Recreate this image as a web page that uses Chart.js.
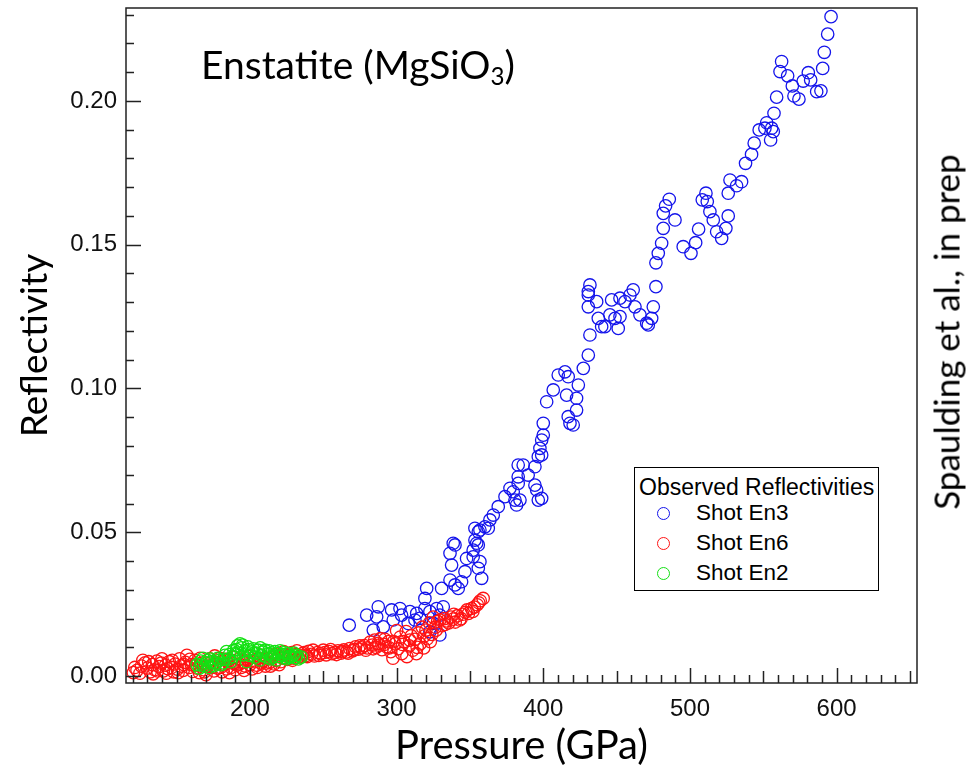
<!DOCTYPE html>
<html><head><meta charset="utf-8">
<script src="https://cdn.jsdelivr.net/npm/chart.js@4.4.1/dist/chart.umd.min.js"></script>
<style>
html,body{margin:0;padding:0;background:#fff;}
#wrap{position:relative;width:973px;height:771px;overflow:hidden;background:#fff;}
#c{position:absolute;left:0;top:0;}
.t{position:absolute;font-family:Lato,"Open Sans",sans-serif;color:#000;white-space:nowrap;line-height:1;}
#title{left:201px;top:45px;font-size:39px;}
#title sub{font-size:0.62em;vertical-align:-0.25em;line-height:0;}
#credit{left:946px;top:332px;font-size:35px;transform:translate(-50%,-50%) rotate(-90deg);}
#legend{position:absolute;left:634px;top:467px;width:243px;height:122px;border:1.5px solid #000;background:#fff;font-family:"Liberation Sans",Arial,sans-serif;color:#000;white-space:nowrap;}
#legend .lt{position:absolute;left:4px;top:8px;font-size:23px;line-height:1;white-space:nowrap;}
#legend .it{position:absolute;left:0;width:240px;height:26px;font-size:22.5px;line-height:26px;white-space:nowrap;}
#legend .mk{position:absolute;left:22px;top:7px;width:11px;height:11px;border-radius:50%;border:1.2px solid;}
#legend .lb{position:absolute;left:61px;top:0;white-space:nowrap;}
</style></head>
<body><div id="wrap">
<canvas id="c" width="973" height="771"></canvas>
<div id="title" class="t">Enstatite (MgSiO<sub>3</sub>)</div>
<div id="credit" class="t">Spaulding et al., in prep</div>
<div id="legend"></div>
</div>
<script>
// ---- data ----
const seriesLabels = ['Shot En3', 'Shot En6', 'Shot En2'];
const seriesColors = ['rgb(20,20,235)', 'rgb(255,20,20)', 'rgb(20,225,20)'];
const legendTitle = 'Observed Reflectivities';
const xTickValues = [200, 300, 400, 500, 600];
const yTickValues = [0.00, 0.05, 0.10, 0.15, 0.20];

const en3P = [267.7,279.6,284.1,286.4,287.5,290.9,296.6,297.7,302.3,303.4,307.9,309.1,312.5,313.7,315.9,319.3,319.3,320.5,322.7,322.7,325.0,327.3,329.5,329.5,330.7,331.8,336.4,336.4,338.6,337.5,339.8,339.8,342.0,344.3,346.6,347.7,352.2,352.2,353.4,353.4,354.6,355.7,355.7,355.7,356.8,358.0,356.8,360.2,362.5,363.6,365.9,369.3,373.9,377.3,379.5,380.7,381.8,384.1,382.9,382.9,382.9,386.3,389.7,394.3,394.3,395.5,396.6,398.9,396.6,398.9,397.7,398.9,400.0,400.0,402.3,406.8,410.2,414.8,417.0,415.9,417.0,418.2,420.4,422.7,422.7,423.9,427.3,430.7,431.8,430.7,430.7,431.8,430.7,436.4,437.5,439.8,442.0,445.4,446.6,451.1,452.3,448.9,452.3,455.7,459.1,461.3,462.5,465.9,470.5,471.6,473.9,475.0,476.8,476.8,478.4,480.7,481.8,481.8,483.4,485.9,489.8,495.4,500.7,503.9,505.9,508.4,510.9,511.8,513.6,515.9,518.2,521.6,524.5,526.1,526.1,527.3,531.8,535.2,537.9,542.0,543.8,547.2,551.1,552.3,555.0,555.7,556.8,557.3,559.1,562.5,561.4,566.6,569.8,570.9,574.3,577.2,580.7,582.3,586.4,589.3,590.5,591.6,593.9,596.2];
const en3R = [0.0177,0.0212,0.0160,0.0206,0.0241,0.0171,0.0230,0.0195,0.0235,0.0212,0.0183,0.0224,0.0195,0.0218,0.0201,0.0235,0.0270,0.0305,0.0224,0.0154,0.0183,0.0235,0.0212,0.0143,0.0305,0.0241,0.0334,0.0427,0.0462,0.0386,0.0456,0.0317,0.0305,0.0328,0.0363,0.0409,0.0415,0.0438,0.0473,0.0514,0.0462,0.0456,0.0502,0.0375,0.0398,0.0340,0.0508,0.0519,0.0514,0.0543,0.0560,0.0589,0.0624,0.0653,0.0641,0.0612,0.0595,0.0612,0.0670,0.0693,0.0734,0.0734,0.0699,0.0728,0.0664,0.0647,0.0612,0.0618,0.0763,0.0769,0.0792,0.0821,0.0838,0.0879,0.0954,0.0995,0.1047,0.1058,0.1041,0.0977,0.0902,0.0879,0.0873,0.0925,0.0966,0.1012,0.1070,0.1116,0.1186,0.1284,0.1325,0.1360,0.1337,0.1302,0.1244,0.1215,0.1215,0.1256,0.1308,0.1209,0.1250,0.1244,0.1314,0.1302,0.1325,0.1343,0.1284,0.1256,0.1227,0.1221,0.1244,0.1284,0.1354,0.1437,0.1470,0.1505,0.1557,0.1609,0.1635,0.1658,0.1586,0.1493,0.1470,0.1507,0.1554,0.1656,0.1679,0.1650,0.1615,0.1586,0.1545,0.1522,0.1557,0.1600,0.1679,0.1725,0.1705,0.1719,0.1783,0.1814,0.1853,0.1899,0.1905,0.1924,0.1864,0.1905,0.1893,0.1957,0.2013,0.2137,0.2102,0.2087,0.2052,0.2017,0.2006,0.2069,0.2098,0.2073,0.2032,0.2035,0.2113,0.2169,0.2232,0.2293];

const en6P = [120.5,123,126,128.5,130,132,133.5,135,136.5,138,139.5,141,142.5,144,145,146.5,148,149,150.5,152,153,154.5,156,157,158.5,160,161,162.5,164,165.5,167,168.5,170,171,172.5,174,175.5,177,178,179.5,181,182.5,184,185.5,187,188.5,190,191,192.5,194,195.5,197,198.5,200,201.5,203,204.5,206,207.5,209,210.5,212,213.5,215,216.5,218,219.5,221,222.5,224,225.5,227,228.5,230,231.5,233,235,237,238.5,240,242,244,246,248,250,252,254,256,258,260,262,264,266,268,270,272,274,276,278,280,282,283.5,285,286,287.5,289,290,291.5,293,294.5,296,297.5,299,300,301,302.5,303.5,305,306.5,307,308.5,310,311,312.5,313.5,315,316,317.5,318.5,320,321,322.5,324,325,326.5,328,329.5,331,332.5,334,335.5,337,338.5,340,341.5,343,345,347,349,351,353,355,357,
  121.5,125,127,131,134,137,140,143,147,151,155,159,163,166,169,173,176,180,183,186,189,193,196,199,202,205,208,211,214,217,220,223,226,229,232,236,239,243,247,251,255,259,263,267,271,275,279,284,288,292,295,298,304,309,314,319,323,327,333,339,344,348,352,356,359];
const en6R = [0.0012,0.0020,0.0035,0.0046,0.0028,0.0015,0.0040,0.0022,0.0052,0.0033,0.0045,0.0018,0.0038,0.0026,0.0050,0.0030,0.0015,0.0042,0.0024,0.0060,0.0035,0.0020,0.0048,0.0072,0.0030,0.0040,0.0016,0.0055,0.0028,0.0012,0.0045,0.0022,0.0005,0.0035,0.0060,0.0030,0.0018,0.0048,0.0028,0.0062,0.0015,0.0040,0.0025,0.0055,0.0030,0.0045,0.0022,0.0038,0.0060,0.0030,0.0048,0.0035,0.0055,0.0040,0.0025,0.0050,0.0038,0.0062,0.0045,0.0052,0.0035,0.0060,0.0048,0.0065,0.0042,0.0055,0.0070,0.0050,0.0062,0.0075,0.0058,0.0068,0.0082,0.0062,0.0075,0.0066,0.0070,0.0082,0.0072,0.0086,0.0076,0.0070,0.0082,0.0078,0.0090,0.0074,0.0085,0.0078,0.0083,0.0088,0.0080,0.0091,0.0084,0.0096,0.0088,0.0102,0.0094,0.0098,0.0106,0.0098,0.0118,0.0108,0.0125,0.0100,0.0114,0.0130,0.0092,0.0110,0.0102,0.0120,0.0085,0.0062,0.0112,0.0158,0.0095,0.0136,0.0078,0.0120,0.0155,0.0068,0.0105,0.0140,0.0090,0.0128,0.0078,0.0150,0.0112,0.0170,0.0098,0.0160,0.0130,0.0185,0.0145,0.0205,0.0170,0.0190,0.0195,0.0175,0.0200,0.0192,0.0185,0.0205,0.0198,0.0188,0.0210,0.0195,0.0215,0.0222,0.0218,0.0235,0.0240,0.0248,0.0262,
  0.0030,0.0010,0.0055,0.0050,0.0008,0.0018,0.0060,0.0010,0.0055,0.0012,0.0040,0.0058,0.0038,0.0062,0.0015,0.0045,0.0070,0.0030,0.0058,0.0012,0.0065,0.0042,0.0020,0.0068,0.0055,0.0030,0.0072,0.0045,0.0035,0.0075,0.0040,0.0085,0.0070,0.0055,0.0088,0.0078,0.0068,0.0090,0.0072,0.0082,0.0092,0.0075,0.0085,0.0080,0.0092,0.0105,0.0090,0.0095,0.0108,0.0128,0.0098,0.0120,0.0110,0.0125,0.0100,0.0140,0.0120,0.0160,0.0180,0.0215,0.0200,0.0230,0.0225,0.0255,0.0270];

const en2P = [164,165.5,166.5,168,169,170.5,172,172.7,174,175.5,177,179,180.5,181.8,183,184,185.5,187,188.5,190,191,192,193.2,194.3,195.5,196.5,197.7,198.5,200,201,202.3,203.5,204.5,205.5,206.8,208,209,210.2,211.4,212.5,214,214.8,216,217,218.2,219.5,220.5,221.5,222.7,224,225,226.5,228,229.5,231,233,235,
  167,171,176,178,182,186,189,191.5,195,199,203,207,213,215.5,219,223.5,227,230,232];
const en2R = [0.0040,0.0028,0.0052,0.0062,0.0035,0.0046,0.0030,0.0060,0.0050,0.0036,0.0045,0.0055,0.0040,0.0046,0.0072,0.0085,0.0060,0.0050,0.0068,0.0078,0.0092,0.0080,0.0112,0.0098,0.0074,0.0088,0.0050,0.0102,0.0072,0.0084,0.0095,0.0066,0.0080,0.0090,0.0056,0.0072,0.0084,0.0090,0.0066,0.0078,0.0060,0.0080,0.0070,0.0085,0.0056,0.0068,0.0088,0.0076,0.0072,0.0065,0.0060,0.0078,0.0068,0.0072,0.0064,0.0060,0.0066,
  0.0038,0.0055,0.0042,0.0062,0.0058,0.0075,0.0090,0.0105,0.0108,0.0092,0.0080,0.0098,0.0088,0.0066,0.0078,0.0082,0.0066,0.0080,0.0072];

const xMin = 115.5, xMax = 654.8, yMin = -0.0024, yMax = 0.2323;

function pts(P, R) { return P.map((p, i) => ({ x: p, y: R[i] })); }
const seriesData = [pts(en3P, en3R), pts(en6P, en6R), pts(en2P, en2R)];
const drawOrder = [3, 2, 1];

// inward ticks + frame
const framePlugin = {
  id: 'frame',
  afterDraw(chart) {
    const { ctx, chartArea: a, scales } = chart;
    const xs = scales.x, ys = scales.y;
    ctx.save();
    ctx.strokeStyle = '#222';
    ctx.lineWidth = 1.5;
    ctx.beginPath();
    for (let v = 120; v <= 650; v += 10) {
      const px = Math.round(xs.getPixelForValue(v)) + 0.5;
      const len = v % 100 === 0 ? 15 : (v % 50 === 0 ? 12 : 8);
      ctx.moveTo(px, a.bottom); ctx.lineTo(px, a.bottom - len);
    }
    for (let k = 0; k <= 23; k++) {
      const py = Math.round(ys.getPixelForValue(k / 100)) + 0.5;
      const len = k % 5 === 0 ? 15 : 8;
      ctx.moveTo(a.left, py); ctx.lineTo(a.left + len, py);
    }
    ctx.stroke();
    ctx.strokeRect(a.left, a.top, a.right - a.left, a.bottom - a.top);
    ctx.restore();
  }
};

new Chart(document.getElementById('c'), {
  type: 'scatter',
  data: {
    datasets: seriesLabels.map((lab, i) => ({
      label: lab,
      data: seriesData[i],
      order: drawOrder[i],
      pointStyle: 'circle',
      pointRadius: 6.2,
      pointBorderWidth: 1.3,
      borderColor: seriesColors[i],
      backgroundColor: 'rgba(0,0,0,0)',
      pointHoverRadius: 6.2
    }))
  },
  options: {
    responsive: false,
    animation: false,
    devicePixelRatio: 1,
    layout: { padding: { top: 8, right: 56, left: 0, bottom: 0 } },
    plugins: { legend: { display: false }, tooltip: { enabled: false } },
    scales: {
      x: {
        type: 'linear', min: xMin, max: xMax,
        afterFit(s) { s.height = 88; s.paddingLeft = 0; s.paddingRight = 0; },
        afterBuildTicks(s) { s.ticks = xTickValues.map(v => ({ value: v })); },
        grid: { display: false, drawTicks: false },
        border: { display: false },
        ticks: { font: { family: 'Liberation Sans', size: 24 }, color: '#111', padding: 12, maxRotation: 0, callback: v => String(v) },
        title: { display: true, text: 'Pressure (GPa)', font: { family: 'Lato', size: 40 }, color: '#000', padding: { top: 0, bottom: 1 } }
      },
      y: {
        type: 'linear', min: yMin, max: yMax,
        afterFit(s) { s.width = 126; s.paddingTop = 0; s.paddingBottom = 0; },
        afterBuildTicks(s) { s.ticks = yTickValues.map(v => ({ value: v })); },
        grid: { display: false, drawTicks: false },
        border: { display: false },
        ticks: { font: { family: 'Liberation Sans', size: 24 }, color: '#111', padding: 9, callback: v => Number(v).toFixed(2) },
        title: { display: true, text: 'Reflectivity', font: { family: 'Lato', size: 37 }, color: '#000', padding: { top: 13, bottom: 0 } }
      }
    }
  },
  plugins: [framePlugin]
});

// legend (HTML)
const lg = document.getElementById('legend');
const lt = document.createElement('div'); lt.className = 'lt'; lt.textContent = legendTitle; lg.appendChild(lt);
const itemTops = [32, 62, 92];
seriesLabels.forEach((lab, i) => {
  const it = document.createElement('div'); it.className = 'it'; it.style.top = itemTops[i] + 'px';
  const mk = document.createElement('span'); mk.className = 'mk'; mk.style.borderColor = seriesColors[i];
  const lb = document.createElement('span'); lb.className = 'lb'; lb.textContent = lab;
  it.appendChild(mk); it.appendChild(lb); lg.appendChild(it);
});
</script>
</body></html>
